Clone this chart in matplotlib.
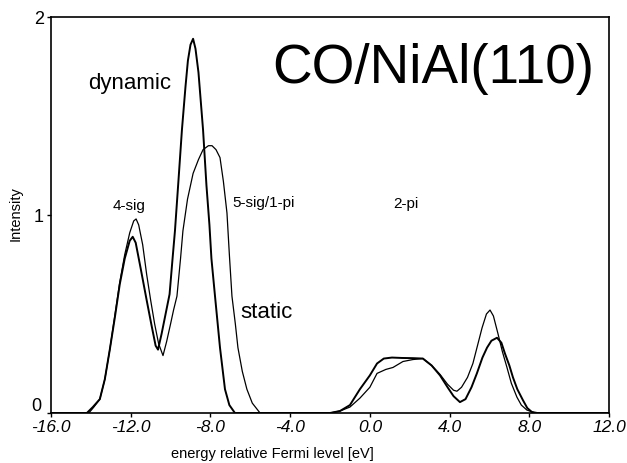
import matplotlib
matplotlib.use("Agg")
import matplotlib.pyplot as plt
from matplotlib.transforms import ScaledTranslation

plt.rcParams['font.family'] = ['Liberation Sans', 'DejaVu Sans']

# --- data ---
dyn_x = [-16.0, -14.5, -14.2, -13.9, -13.55, -13.3, -13.05, -12.8, -12.55, -12.3, -12.05, -11.9,
         -11.75, -11.5, -11.2, -10.95, -10.75, -10.63, -10.45, -10.25, -10.05, -9.9, -9.78, -9.6,
         -9.43, -9.25, -9.13, -9.0, -8.87, -8.75, -8.6, -8.37, -8.2, -8.05, -7.95, -7.77, -7.52,
         -7.27, -7.05, -6.77, -2.0, -1.5, -1.0, -0.5, 0.0, 0.36, 0.7, 1.11, 1.6, 2.16, 2.66, 3.1,
         3.52, 3.9, 4.2, 4.52, 4.8, 5.1, 5.37, 5.65, 5.88, 6.1, 6.38, 6.6, 6.78, 7.0, 7.18, 7.4,
         7.68, 7.9, 8.13, 8.4, 12.0]
dyn_y = [0.0, 0.0, 0.0, 0.03, 0.07, 0.17, 0.32, 0.48, 0.65, 0.78, 0.87, 0.89,
         0.86, 0.73, 0.57, 0.44, 0.34, 0.32, 0.40, 0.50, 0.60, 0.78, 0.92, 1.18,
         1.43, 1.65, 1.78, 1.86, 1.89, 1.84, 1.72, 1.43, 1.15, 0.95, 0.78, 0.59, 0.33,
         0.12, 0.04, 0.0, 0.0, 0.01, 0.04, 0.12, 0.19, 0.25, 0.275, 0.28, 0.278, 0.277, 0.275, 0.24,
         0.19, 0.13, 0.085, 0.055, 0.07, 0.13, 0.20, 0.28, 0.33, 0.365, 0.38, 0.355, 0.30, 0.24, 0.18, 0.12,
         0.065, 0.025, 0.005, 0.0, 0.0]

sta_x = [-16.0, -14.3, -14.1, -13.85, -13.55, -13.3, -13.05, -12.8, -12.55, -12.3, -12.05, -11.85,
         -11.73, -11.6, -11.4, -11.2, -11.0, -10.8, -10.6, -10.38, -10.2, -10.0, -9.85, -9.68,
         -9.5, -9.38, -9.15, -8.87, -8.6, -8.37, -8.1, -7.92, -7.72, -7.52, -7.35, -7.17, -7.05,
         -6.92, -6.75, -6.62, -6.4, -6.17, -5.9, -5.51, -2.0, -1.5, -1.0, -0.5, 0.0, 0.36, 0.8,
         1.16, 1.66, 2.16, 2.66, 3.1, 3.52, 3.9, 4.2, 4.37, 4.6, 4.9, 5.17, 5.4, 5.63, 5.85, 6.03,
         6.2, 6.43, 6.65, 6.88, 7.1, 7.38, 7.6, 7.88, 8.3, 12.0]
sta_y = [0.0, 0.0, 0.0, 0.03, 0.07, 0.17, 0.32, 0.49, 0.66, 0.80, 0.91, 0.97,
         0.98, 0.95, 0.85, 0.70, 0.57, 0.45, 0.35, 0.29, 0.36, 0.45, 0.52, 0.59,
         0.78, 0.92, 1.08, 1.21, 1.28, 1.33, 1.35, 1.35, 1.33, 1.29, 1.17, 1.01, 0.80,
         0.59, 0.45, 0.33, 0.21, 0.12, 0.05, 0.0, 0.0, 0.01, 0.03, 0.075, 0.13, 0.20, 0.22,
         0.23, 0.26, 0.27, 0.275, 0.24, 0.195, 0.145, 0.115, 0.11, 0.13, 0.18, 0.25, 0.34, 0.43, 0.50, 0.52,
         0.49, 0.40, 0.31, 0.23, 0.15, 0.08, 0.04, 0.015, 0.0, 0.0]

x_ticks = [-16, -12, -8, -4, 0, 4, 8, 12]
x_tick_labels = ['-16.0', '-12.0', '-8.0', '-4.0', '0.0', '4.0', '8.0', '12.0']
y_ticks = [0, 1, 2]
y_tick_labels = ['0', '1', '2']

W, H = 627, 463
fig = plt.figure(figsize=(W / 100, H / 100), dpi=100)
ax = fig.add_axes([51 / W, 1 - 413 / H, (609 - 51) / W, (413 - 17) / H])

ax.plot(dyn_x, dyn_y, color='black', lw=1.4, solid_joinstyle='round')
ax.plot(sta_x, sta_y, color='black', lw=0.9, solid_joinstyle='round')

ax.set_xlim(-16, 12)
ax.set_ylim(0, 2)
ax.set_xticks(x_ticks)
ax.set_xticklabels(x_tick_labels, fontstyle='italic', fontsize=12.5)
ax.set_yticks(y_ticks)
ax.set_yticklabels(y_tick_labels, fontsize=13)
ax.tick_params(axis='both', direction='out', length=3, width=1, color='black')
ax.tick_params(axis='x', pad=2)
ax.tick_params(axis='y', pad=2)
for s in ax.spines.values():
    s.set_linewidth(1.2)

# lift the "0" label a little so it sits above the "-16.0" label
for lab in ax.get_yticklabels():
    if lab.get_text() == '0':
        lab.set_transform(lab.get_transform() + ScaledTranslation(-2 / 72, 6 / 72, fig.dpi_scale_trans))


def ftext(px, py, s, **kw):
    fig.text(px / W, 1 - py / H, s, **kw)


ftext(272, 69, 'CO/NiAl(110)', fontsize=39.5, ha='left', va='center')
ftext(88, 84, 'dynamic', fontsize=16, ha='left', va='center')
ftext(240, 313, 'static', fontsize=16, ha='left', va='center')
ftext(113, 206, '4-sig', fontsize=11, ha='left', va='center')
ftext(232, 203, '5-sig/1-pi', fontsize=11, ha='left', va='center')
ftext(393, 204, '2-pi', fontsize=11, ha='left', va='center')
ftext(272, 454, 'energy relative Fermi level [eV]', fontsize=10.5, ha='center', va='center')
ftext(16, 214, 'Intensity', fontsize=10.5, ha='center', va='center', rotation=90)

fig.savefig('out.png', dpi=100)
